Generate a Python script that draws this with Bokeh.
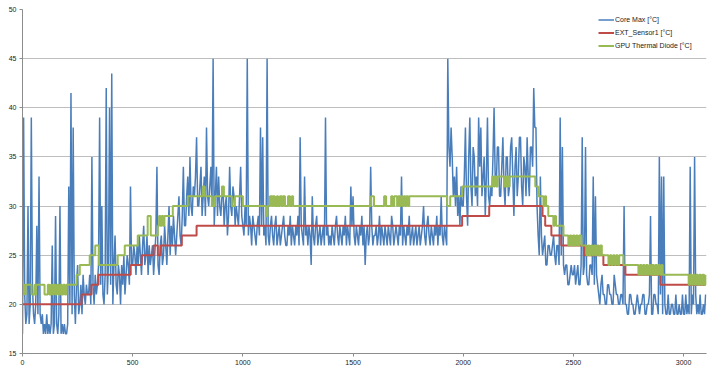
from bokeh.plotting import figure
from bokeh.models import Range1d, Legend, LegendItem, FixedTicker
from bokeh.embed import file_html
from bokeh.resources import INLINE

# Core Max [°C], one reading every 5 samples (x = 0, 5, ..., 3100)
core_max = [
    17, 39, 21, 18, 19, 30, 18, 20, 39, 22, 19, 18, 20, 28, 19, 33, 19, 18, 19, 17,
    18, 17, 19, 17, 18, 17, 18, 26, 17, 18, 29, 18, 17, 19, 30, 17, 18, 17, 18, 17,
    17, 18, 32, 20, 41.5, 19, 38, 21, 18, 22, 24, 19, 20, 22, 19, 23, 21, 20, 22, 21,
    21, 23, 20, 35, 22, 20, 23, 21, 22, 24, 39, 22, 30, 21, 20, 23, 42, 21, 24, 40,
    22, 43.5, 20, 24, 27, 22, 21, 24, 23, 20, 24, 22, 25, 21, 23, 25, 24, 22, 32, 24,
    24, 26, 25, 23, 26, 24, 27, 25, 23, 26, 28, 24, 25, 27, 23, 26, 24, 25, 26, 23,
    25, 27, 34, 24, 23, 26, 27, 24, 25, 28, 26, 24, 27, 30, 25, 28, 26, 29, 27, 25,
    27, 29, 31, 27, 26, 29, 34, 28, 28, 31, 33, 29, 35, 30, 29, 32, 31, 33, 37, 30,
    30, 32, 34, 29, 31, 33, 29, 38, 31, 30, 32, 34, 30, 45, 28, 31, 34, 29, 33, 30,
    29, 31, 32, 28, 30, 31, 27, 29, 34, 30, 29, 32, 31, 28, 30, 29, 28, 31, 34, 29,
    28, 27, 30, 28, 45, 27, 29, 28, 26, 29, 28, 27, 26, 28, 29, 27, 38, 28, 37, 27,
    28, 26, 45, 27, 26, 28, 29, 27, 26, 28, 29, 26, 27, 28, 26, 27, 28, 29, 27, 26,
    26, 28, 27, 29, 26, 28, 27, 26, 28, 27, 29, 26, 37, 28, 27, 26, 33, 27, 28, 26,
    28, 27, 24, 31, 27, 26, 28, 29, 26, 27, 28, 26, 27, 28, 26, 39, 27, 28, 26, 27,
    26, 28, 27, 26, 28, 29, 27, 26, 28, 27, 26, 28, 27, 29, 26, 28, 27, 26, 32, 28,
    31, 27, 26, 28, 27, 26, 28, 27, 29, 26, 28, 24, 27, 28, 26, 27, 34, 28, 26, 27,
    27, 28, 26, 27, 29, 26, 28, 27, 26, 28, 27, 26, 28, 27, 26, 29, 28, 26, 27, 28,
    27, 26, 28, 27, 33, 26, 28, 27, 26, 28, 27, 29, 26, 27, 28, 26, 27, 28, 26, 27,
    28, 26, 27, 28, 30, 27, 26, 28, 29, 27, 26, 28, 27, 26, 28, 27, 29, 26, 28, 27,
    31, 27, 26, 28, 27, 26, 45, 36, 34, 38, 35, 31, 33, 30, 34, 29, 31, 28, 32, 30,
    30, 33, 38, 31, 28, 35, 39, 32, 30, 36, 35, 31, 33, 30, 39, 34, 38, 31, 33, 35,
    29, 33, 39, 31, 30, 32, 31, 35, 40, 33, 32, 36, 36, 31, 31, 34, 37, 32, 30, 35,
    35, 31, 32, 36, 37, 33, 29, 34, 36, 31, 33, 37, 37, 32, 30, 35, 34, 31, 37, 33,
    31, 36, 36, 34, 42, 38, 38, 30, 27, 25, 33, 27, 25, 26, 27, 24, 24, 26, 26, 25,
    25, 26, 27, 25, 24, 26, 26, 24, 39, 25, 36, 24, 23, 24, 24, 22, 22, 23, 24, 23,
    23, 24, 22, 23, 24, 22, 22, 24, 37, 23, 24, 36, 23, 22, 22, 24, 24, 23, 33, 22,
    31, 23, 22, 21, 20, 22, 23, 21, 21, 20, 20, 22, 22, 21, 21, 20, 20, 23, 22, 21,
    21, 20, 20, 21, 21, 20, 30, 20, 20, 19, 19, 21, 21, 20, 20, 19, 19, 20, 21, 20,
    19, 20, 20, 21, 21, 19, 19, 20, 20, 21, 29, 19, 19, 21, 21, 20, 20, 19, 35, 21,
    33, 19, 33, 20, 19, 19, 21, 19, 19, 20, 20, 19, 19, 21, 19, 19, 20, 19, 19, 21,
    19, 19, 21, 19, 20, 19, 34, 19, 21, 20, 35, 21, 19, 20, 19, 21, 19, 19, 20, 19,
    21,
]
core_x = [5 * i for i in range(len(core_max))]

# EXT_Sensor1 [°C]: (sample where the level starts, level)
ext_steps = [
    (0, 20), (268, 21), (313, 22), (345, 23), (491, 24), (541, 25), (595, 26),
    (614, 25), (627, 26), (723, 27), (790, 28), (1995, 29), (2118, 30),
    (2360, 29), (2372, 28), (2400, 27), (2445, 26), (2550, 25), (2636, 24),
    (2736, 23), (2895, 22), (3100, 22),
]

# GPU Thermal Diode [°C]: (sample where the level starts, level)
gpu_steps = [
    (0, 21), (5, 22), (10, 21), (14, 22), (41, 21), (55, 22), (58, 21), (62, 22),
    (100, 21), (115, 22), (122, 21), (129, 22), (136, 21), (143, 22), (150, 21),
    (157, 22), (164, 21), (171, 22), (178, 21), (185, 22), (192, 21), (199, 22),
    (245, 23), (260, 24), (305, 25), (330, 26), (347, 24), (432, 25), (464, 26),
    (523, 27), (568, 29), (582, 27), (614, 28), (620, 29), (626, 28), (632, 29),
    (638, 28), (644, 29), (682, 30), (750, 31), (818, 32), (827, 31), (859, 30),
    (873, 31), (905, 32), (914, 31), (950, 30), (964, 31), (1000, 30), (1105, 29),
    (1112, 30), (1123, 31), (1132, 30), (1136, 31), (1145, 30), (1154, 31),
    (1160, 30), (1168, 31), (1177, 30), (1182, 31), (1191, 30), (1205, 31),
    (1214, 30), (1222, 31), (1228, 30), (1582, 31), (1595, 30), (1641, 31),
    (1650, 30), (1673, 31), (1680, 30), (1687, 31), (1700, 30), (1705, 31),
    (1712, 30), (1718, 31), (1725, 30), (1730, 31), (1737, 30), (1742, 31),
    (1750, 30), (1755, 31), (1927, 30), (1941, 31), (1995, 32), (2132, 33),
    (2138, 32), (2144, 33), (2150, 32), (2156, 33), (2185, 32), (2190, 33),
    (2195, 32), (2200, 33), (2206, 32), (2210, 33), (2327, 32), (2340, 31),
    (2364, 30), (2370, 31), (2376, 30), (2386, 29), (2409, 28), (2415, 29),
    (2421, 28), (2455, 27), (2477, 26), (2484, 27), (2491, 26), (2498, 27),
    (2505, 26), (2512, 27), (2519, 26), (2526, 27), (2536, 26), (2559, 25),
    (2566, 26), (2573, 25), (2580, 26), (2587, 25), (2594, 26), (2601, 25),
    (2608, 26), (2615, 25), (2622, 26), (2629, 25), (2659, 24), (2666, 25),
    (2673, 24), (2680, 25), (2687, 24), (2694, 25), (2701, 24), (2708, 25),
    (2727, 24), (2795, 23), (2802, 24), (2809, 23), (2816, 24), (2823, 23),
    (2830, 24), (2837, 23), (2844, 24), (2851, 23), (2858, 24), (2865, 23),
    (2872, 24), (2879, 23), (2886, 24), (2893, 23), (2900, 24), (2905, 23),
    (3023, 22), (3030, 23), (3037, 22), (3044, 23), (3051, 22), (3058, 23),
    (3065, 22), (3072, 23), (3079, 22), (3086, 23), (3093, 22), (3100, 23),
]

x_ticks = [0, 500, 1000, 1500, 2000, 2500, 3000]
y_ticks = [15, 20, 25, 30, 35, 40, 45, 50]
series_labels = ["Core Max [°C]", "EXT_Sensor1 [°C]", "GPU Thermal Diode [°C]"]

ext_x = [s[0] for s in ext_steps]
ext_y = [s[1] for s in ext_steps]
gpu_x = [s[0] for s in gpu_steps]
gpu_y = [s[1] for s in gpu_steps]

p = figure(width=720, height=375, output_backend="svg", toolbar_location=None,
           x_range=Range1d(0, 3104), y_range=Range1d(15, 50),
           min_border_left=22, min_border_right=14, min_border_top=9,
           min_border_bottom=22, background_fill_color="white",
           border_fill_color="white")
p.outline_line_color = None

r_core = p.line(core_x, core_max, line_color="#4A7EBB", line_width=1.5)
r_ext = p.step(ext_x, ext_y, mode="after", line_color="#BE4B48", line_width=2)
r_gpu = p.step(gpu_x, gpu_y, mode="after", line_color="#98B954", line_width=2)

font = "Liberation Sans"
for ax in (p.xaxis[0], p.yaxis[0]):
    ax.axis_line_color = "#8C8C8C"
    ax.major_tick_line_color = "#8C8C8C"
    ax.major_tick_in = 0
    ax.major_tick_out = 3
    ax.minor_tick_line_color = None
    ax.major_label_text_font = font
    ax.major_label_text_font_size = "7px"
    ax.major_label_text_color = "#222222"
    ax.major_label_standoff = 3
p.xaxis.ticker = FixedTicker(ticks=x_ticks)
p.yaxis.ticker = FixedTicker(ticks=y_ticks)

p.xgrid.visible = False
p.ygrid.ticker = FixedTicker(ticks=y_ticks)
p.ygrid.grid_line_color = "#BEBEBE"
p.ygrid.grid_line_width = 1

legend = Legend(items=[
    LegendItem(label=series_labels[0], renderers=[r_core]),
    LegendItem(label=series_labels[1], renderers=[r_ext]),
    LegendItem(label=series_labels[2], renderers=[r_gpu]),
], location=(576, 301))
legend.background_fill_alpha = 0
legend.border_line_color = None
legend.padding = 0
legend.margin = 0
legend.spacing = 0
legend.glyph_width = 16
legend.glyph_height = 13
legend.label_height = 13
legend.label_standoff = 1
legend.label_text_font = font
legend.label_text_font_size = "7px"
legend.label_text_color = "#222222"
p.add_layout(legend, "center")

open("out.html", "w").write(file_html(p, INLINE))
